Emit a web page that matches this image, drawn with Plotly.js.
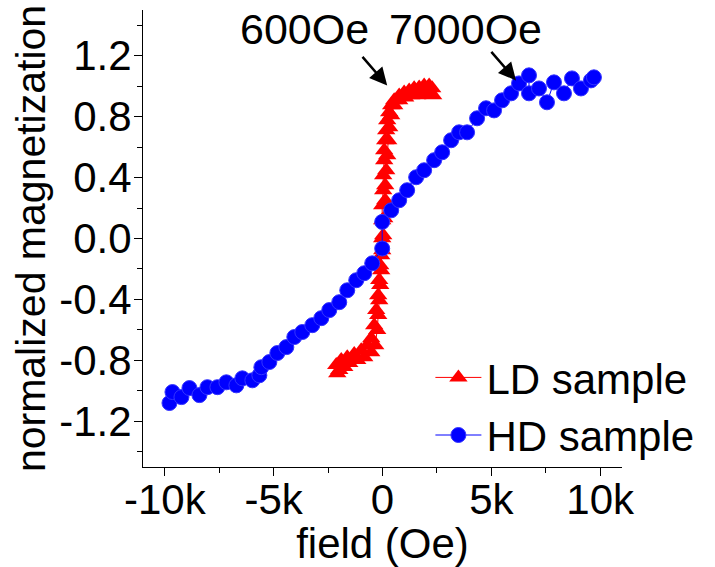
<!DOCTYPE html>
<html>
<head>
<meta charset="utf-8">
<script src="https://cdn.plot.ly/plotly-3.0.1.min.js"></script>
<style>html,body{margin:0;padding:0;background:#fff;}#chart{width:715px;height:567px;}</style>
</head>
<body>
<div id="chart"></div>
<script>
// LD sample: sweep down (+2k -> -2k) then back up
var ldField = [2280,2142,1913,1684,1454,1225,995,766,537,399,307,216,170,124,78,78,32,32,-14,-14,-14,-60,-60,-105,-151,-197,-243,-335,-518,-839,-1160,-1527,-1757,-1986,-2078,
  -2124,-1894,-1619,-1298,-977,-702,-518,-381,-289,-197,-151,-105,-14,32,78,124,124,170,216,261,307,399,537,766,1041,1316,1592,1867,2142,2325];
var ldMag = [0.986,1.005,1.005,0.992,0.986,0.972,0.959,0.939,0.907,0.874,0.828,0.776,0.710,0.645,0.579,0.513,0.415,0.317,0.218,0.120,0.002,-0.110,-0.208,-0.306,-0.405,-0.503,-0.601,-0.700,-0.746,-0.779,-0.798,-0.818,-0.844,-0.864,-0.884,
  -0.831,-0.798,-0.779,-0.759,-0.733,-0.700,-0.654,-0.569,-0.470,-0.372,-0.273,-0.175,-0.077,0.022,0.133,0.251,0.350,0.448,0.546,0.645,0.730,0.809,0.874,0.907,0.926,0.940,0.940,0.946,0.953,0.940];

// HD sample
var hdField = [-9784,-9647,-9234,-8867,-8408,-8041,-7583,-7170,-6711,-6436,-5977,-5656,-5564,-5197,-4830,-4417,-4050,-3683,-3225,-2812,-2445,-1986,-1619,-1206,-839,-472,-14,-14,399,766,1133,1546,1913,2372,2739,3152,3518,3885,4344,4757,5124,5491,5904,6270,6729,6729,7188,7555,7876,8335,8702,9115,9574,9711];
var hdMag = [-1.080,-1.008,-1.041,-0.982,-1.028,-0.976,-0.976,-0.944,-0.964,-0.918,-0.931,-0.898,-0.845,-0.811,-0.752,-0.713,-0.647,-0.614,-0.569,-0.523,-0.470,-0.418,-0.340,-0.274,-0.228,-0.163,-0.066,0.109,0.185,0.251,0.317,0.402,0.448,0.514,0.566,0.645,0.697,0.697,0.789,0.855,0.841,0.907,0.953,1.018,1.071,0.953,0.985,0.894,1.025,0.953,1.051,0.985,1.038,1.058];

var xTickVals = [-10000,-5000,0,5000,10000];
var xTickText = ['-10k','-5k','0','5k','10k'];
var yTickVals = [-1.2,-0.8,-0.4,0.0,0.4,0.8,1.2];
var yTickText = ['-1.2','-0.8','-0.4','0.0','0.4','0.8','1.2'];
var seriesNames = ['LD sample','HD sample'];
var annoLabels = ['600Oe','7000Oe'];
var annoTextX = [-3592,3793];
var annoArrowX = [216,6133];
var annoArrowY = [1.005,1.038];

var FONT = 'Liberation Sans, Arial, sans-serif';

var traces = [
  {x: ldField, y: ldMag, name: seriesNames[0], type: 'scatter', mode: 'lines+markers',
   line: {color: '#ff0000', width: 1},
   marker: {symbol: 'triangle-up', size: 16, color: '#ff0000', line: {width: 0}}},
  {x: hdField, y: hdMag, name: seriesNames[1], type: 'scatter', mode: 'lines+markers',
   line: {color: '#0000ff', width: 1},
   marker: {symbol: 'circle', size: 15, color: '#0000ff', line: {width: 1, color: '#3333ff'}}}
];

var annotations = [];
for (var i = 0; i < annoLabels.length; i++) {
  annotations.push({x: annoTextX[i], y: 1.375, xref: 'x', yref: 'y', text: annoLabels[i], showarrow: false,
    font: {family: FONT, size: 43, color: '#000'}, xanchor: 'center', yanchor: 'middle'});
  annotations.push({x: annoArrowX[i], y: annoArrowY[i], xref: 'x', yref: 'y', text: '', showarrow: true,
    ax: -26, ay: -30, arrowhead: 2, arrowsize: 1.4, arrowwidth: 2.5, arrowcolor: '#000', standoff: 0});
}

var layout = {
  width: 715, height: 567,
  margin: {l: 143, r: 93, t: 10, b: 100, pad: 0},
  paper_bgcolor: '#fff', plot_bgcolor: '#fff',
  font: {family: FONT, size: 42, color: '#000'},
  showlegend: true,
  legend: {x: 0.6, y: 0.27, xanchor: 'left', yanchor: 'top', bgcolor: 'rgba(0,0,0,0)', borderwidth: 0,
           font: {family: FONT, size: 42, color: '#000'}, itemwidth: 46, tracegroupgap: 0},
  xaxis: {range: [-11000, 11000], tickvals: xTickVals, ticktext: xTickText, ticks: 'outside', ticklen: 8, tickwidth: 1,
          tickcolor: '#000', showline: true, linecolor: '#000', linewidth: 1, showgrid: false, zeroline: false,
          minor: {dtick: 2500, tick0: 0, ticks: 'outside', ticklen: 5, tickcolor: '#000', showgrid: false},
          tickfont: {family: FONT, size: 42}, ticklabelstandoff: -12,
          title: {text: 'field (Oe)', font: {family: FONT, size: 42}, standoff: 6}},
  yaxis: {range: [-1.5, 1.5], tickvals: yTickVals, ticktext: yTickText, ticks: 'outside', ticklen: 8, tickwidth: 1,
          tickcolor: '#000', showline: true, linecolor: '#000', linewidth: 1, showgrid: false, zeroline: false,
          minor: {dtick: 0.2, tick0: 0, ticks: 'outside', ticklen: 5, tickcolor: '#000', showgrid: false},
          tickfont: {family: FONT, size: 42}, ticklabelstandoff: -6,
          title: {text: 'normalized magnetization', font: {family: FONT, size: 41}, standoff: 0}},
  annotations: annotations
};

Plotly.newPlot('chart', traces, layout, {displayModeBar: false, staticPlot: true});
</script>
</body>
</html>
